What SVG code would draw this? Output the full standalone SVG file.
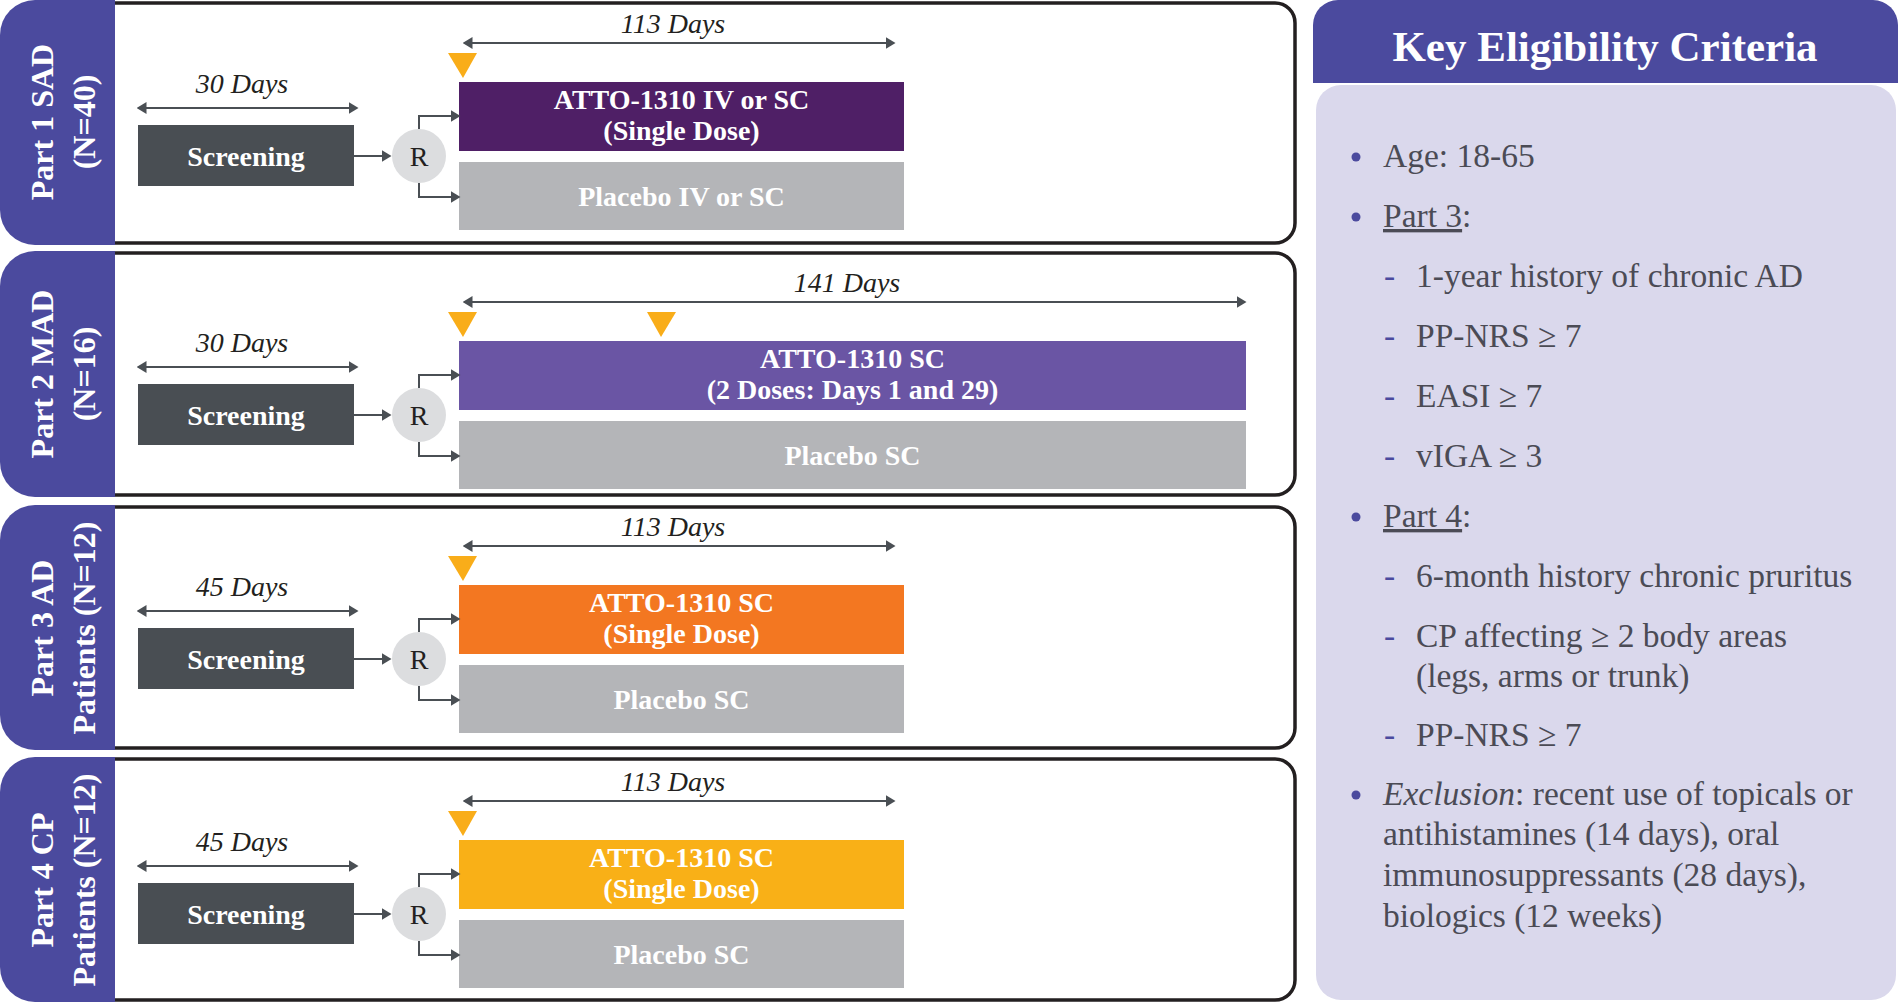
<svg xmlns="http://www.w3.org/2000/svg" width="1898" height="1004" viewBox="0 0 1898 1004">
<style>
  .frame { fill: #ffffff; stroke: #231f20; stroke-width: 3.5; }
  .tab { fill: #4b4a9e; }
  .tabtxt { font-family: "Liberation Serif", "Times New Roman", serif; font-weight: bold; font-size: 32px; fill: #ffffff; text-anchor: middle; }
  .dur { font-family: "Liberation Serif", "Times New Roman", serif; font-style: italic; font-size: 28px; fill: #231f20; text-anchor: middle; }
  .box { font-family: "Liberation Serif", "Times New Roman", serif; font-weight: bold; font-size: 28px; fill: #ffffff; text-anchor: middle; }
  .rtxt { font-family: "Liberation Serif", "Times New Roman", serif; font-size: 28px; fill: #231f20; text-anchor: middle; }
  .scr { fill: #494e53; }
  .plc { fill: #b4b5b8; }
  .rc { fill: #dcdddf; }
  .tri { fill: #f9ad19; }
  .conn { fill: none; stroke: #4a4f54; stroke-width: 2; }
  .arr { marker-end: url(#ah); }
  .darr { marker-start: url(#ah); marker-end: url(#ah); }
  .hdr { fill: #4b4a9e; }
  .body { fill: #dad8ec; }
  .hdrtxt { font-family: "Liberation Serif", "Times New Roman", serif; font-weight: bold; font-size: 43px; fill: #ffffff; text-anchor: middle; }
  .li { font-family: "Liberation Serif", "Times New Roman", serif; font-size: 33.5px; fill: #4b4b55; }
  .dash { font-family: "Liberation Serif", "Times New Roman", serif; font-size: 33.5px; fill: #4b4a9e; }
  .dot { fill: #4b4a9e; }
</style>
<defs>
  <marker id="ah" viewBox="0 0 10 12" refX="8.5" refY="6" markerWidth="10" markerHeight="12" markerUnits="userSpaceOnUse" orient="auto-start-reverse">
    <path d="M0,0 L10,6 L0,12 Z" fill="#4a4f54"/>
  </marker>
</defs>

<!-- Panel 1 -->
<g id="part1">
  <rect class="frame" x="60" y="3" width="1235" height="240" rx="20"/>
  <path class="tab" d="M115,0 V245 H35 A35,35 0 0 1 0,210 V35 A35,35 0 0 1 35,0 Z"/>
  <g transform="translate(0,122) rotate(-90)">
    <text class="tabtxt" x="0" y="53">Part 1 SAD</text>
    <text class="tabtxt" x="0" y="95">(N=40)</text>
  </g>
  <text class="dur" x="673" y="33">113 Days</text>
  <polygon class="tri" points="448,53 477,53 463,78"/>
  <text class="dur" x="242" y="93">30 Days</text>
  <g id="p1-screening"><rect class="scr" x="138" y="125" width="216" height="61"/><text class="box" x="246" y="165.5">Screening</text></g>
  <g id="p1-r"><circle class="rc" cx="419" cy="156" r="27"/><text class="rtxt" x="419" y="166">R</text></g>
  <g id="p1-drug"><rect x="459" y="82" width="445" height="69" fill="#4f1f66"/><text class="box" x="681.5" y="108.5">ATTO-1310 IV or SC</text><text class="box" x="681.5" y="140">(Single Dose)</text></g>
  <g id="p1-placebo"><rect class="plc" x="459" y="162" width="445" height="68"/><text class="box" x="681.5" y="206">Placebo IV or SC</text></g>
</g>

<!-- Panel 2 -->
<g id="part2">
  <rect class="frame" x="60" y="253" width="1235" height="242" rx="20"/>
  <path class="tab" d="M115,251 V497 H35 A35,35 0 0 1 0,462 V286 A35,35 0 0 1 35,251 Z"/>
  <g transform="translate(0,374) rotate(-90)">
    <text class="tabtxt" x="0" y="53">Part 2 MAD</text>
    <text class="tabtxt" x="0" y="95">(N=16)</text>
  </g>
  <text class="dur" x="847" y="292">141 Days</text>
  <polygon class="tri" points="448,312 477,312 463,337"/>
  <polygon class="tri" points="647,312 676,312 661,337"/>
  <text class="dur" x="242" y="352">30 Days</text>
  <g id="p2-screening"><rect class="scr" x="138" y="384" width="216" height="61"/><text class="box" x="246" y="424.5">Screening</text></g>
  <g id="p2-r"><circle class="rc" cx="419" cy="415" r="27"/><text class="rtxt" x="419" y="425">R</text></g>
  <g id="p2-drug"><rect x="459" y="341" width="787" height="69" fill="#6a55a4"/><text class="box" x="852.5" y="367.5">ATTO-1310 SC</text><text class="box" x="852.5" y="399">(2 Doses: Days 1 and 29)</text></g>
  <g id="p2-placebo"><rect class="plc" x="459" y="421" width="787" height="68"/><text class="box" x="852.5" y="465">Placebo SC</text></g>
</g>

<!-- Panel 3 -->
<g id="part3">
  <rect class="frame" x="60" y="507" width="1235" height="241" rx="20"/>
  <path class="tab" d="M115,505 V750 H35 A35,35 0 0 1 0,715 V540 A35,35 0 0 1 35,505 Z"/>
  <g transform="translate(0,628) rotate(-90)">
    <text class="tabtxt" x="0" y="53">Part 3 AD</text>
    <text class="tabtxt" x="0" y="95">Patients (N=12)</text>
  </g>
  <text class="dur" x="673" y="536">113 Days</text>
  <polygon class="tri" points="448,556 477,556 463,581"/>
  <text class="dur" x="242" y="596">45 Days</text>
  <g id="p3-screening"><rect class="scr" x="138" y="628" width="216" height="61"/><text class="box" x="246" y="668.5">Screening</text></g>
  <g id="p3-r"><circle class="rc" cx="419" cy="659" r="27"/><text class="rtxt" x="419" y="669">R</text></g>
  <g id="p3-drug"><rect x="459" y="585" width="445" height="69" fill="#f37721"/><text class="box" x="681.5" y="611.5">ATTO-1310 SC</text><text class="box" x="681.5" y="643">(Single Dose)</text></g>
  <g id="p3-placebo"><rect class="plc" x="459" y="665" width="445" height="68"/><text class="box" x="681.5" y="709">Placebo SC</text></g>
</g>

<!-- Panel 4 -->
<g id="part4">
  <rect class="frame" x="60" y="759" width="1235" height="241" rx="20"/>
  <path class="tab" d="M115,757 V1002 H35 A35,35 0 0 1 0,967 V792 A35,35 0 0 1 35,757 Z"/>
  <g transform="translate(0,880) rotate(-90)">
    <text class="tabtxt" x="0" y="53">Part 4 CP</text>
    <text class="tabtxt" x="0" y="95">Patients (N=12)</text>
  </g>
  <text class="dur" x="673" y="791">113 Days</text>
  <polygon class="tri" points="448,811 477,811 463,836"/>
  <text class="dur" x="242" y="851">45 Days</text>
  <g id="p4-screening"><rect class="scr" x="138" y="883" width="216" height="61"/><text class="box" x="246" y="923.5">Screening</text></g>
  <g id="p4-r"><circle class="rc" cx="419" cy="914" r="27"/><text class="rtxt" x="419" y="924">R</text></g>
  <g id="p4-drug"><rect x="459" y="840" width="445" height="69" fill="#f9b017"/><text class="box" x="681.5" y="866.5">ATTO-1310 SC</text><text class="box" x="681.5" y="898">(Single Dose)</text></g>
  <g id="p4-placebo"><rect class="plc" x="459" y="920" width="445" height="68"/><text class="box" x="681.5" y="964">Placebo SC</text></g>
</g>

<!-- Connectors -->
<g id="connectors">
  <!-- Panel 1 -->
  <line class="conn darr" x1="464" y1="43" x2="894" y2="43"/>
  <line class="conn darr" x1="138" y1="108" x2="357" y2="108"/>
  <line class="conn arr" x1="354" y1="156" x2="390" y2="156"/>
  <path class="conn arr" d="M419,129 V116 H459"/>
  <path class="conn arr" d="M419,183 V197 H459"/>
  <!-- Panel 2 -->
  <line class="conn darr" x1="464" y1="302" x2="1245" y2="302"/>
  <line class="conn darr" x1="138" y1="367" x2="357" y2="367"/>
  <line class="conn arr" x1="354" y1="415" x2="390" y2="415"/>
  <path class="conn arr" d="M419,388 V375 H459"/>
  <path class="conn arr" d="M419,442 V456 H459"/>
  <!-- Panel 3 -->
  <line class="conn darr" x1="464" y1="546" x2="894" y2="546"/>
  <line class="conn darr" x1="138" y1="611" x2="357" y2="611"/>
  <line class="conn arr" x1="354" y1="659" x2="390" y2="659"/>
  <path class="conn arr" d="M419,632 V619 H459"/>
  <path class="conn arr" d="M419,686 V700 H459"/>
  <!-- Panel 4 -->
  <line class="conn darr" x1="464" y1="801" x2="894" y2="801"/>
  <line class="conn darr" x1="138" y1="866" x2="357" y2="866"/>
  <line class="conn arr" x1="354" y1="914" x2="390" y2="914"/>
  <path class="conn arr" d="M419,887 V874 H459"/>
  <path class="conn arr" d="M419,941 V955 H459"/>
</g>

<!-- Key Eligibility Criteria -->
<g id="criteria">
  <rect class="body" x="1316" y="85" width="580" height="915" rx="25"/>
  <path class="hdr" d="M1313,83 V25 A25,25 0 0 1 1338,0 H1873 A25,25 0 0 1 1898,25 V83 Z"/>
  <text class="hdrtxt" x="1605" y="61">Key Eligibility Criteria</text>

  <circle class="dot" cx="1356" cy="157" r="4.5"/>
  <text class="li" x="1383" y="167">Age: 18-65</text>

  <circle class="dot" cx="1356" cy="217" r="4.5"/>
  <text class="li" x="1383" y="227"><tspan text-decoration="underline">Part 3</tspan>:</text>

  <text class="dash" x="1384" y="287">-</text>
  <text class="li" x="1416" y="287">1-year history of chronic AD</text>
  <text class="dash" x="1384" y="347">-</text>
  <text class="li" x="1416" y="347">PP-NRS ≥ 7</text>
  <text class="dash" x="1384" y="407">-</text>
  <text class="li" x="1416" y="407">EASI ≥ 7</text>
  <text class="dash" x="1384" y="467">-</text>
  <text class="li" x="1416" y="467">vIGA ≥ 3</text>

  <circle class="dot" cx="1356" cy="517" r="4.5"/>
  <text class="li" x="1383" y="527"><tspan text-decoration="underline">Part 4</tspan>:</text>

  <text class="dash" x="1384" y="587">-</text>
  <text class="li" x="1416" y="587">6-month history chronic pruritus</text>
  <text class="dash" x="1384" y="647">-</text>
  <text class="li" x="1416" y="647">CP affecting ≥ 2 body areas</text>
  <text class="li" x="1416" y="687">(legs, arms or trunk)</text>
  <text class="dash" x="1384" y="746">-</text>
  <text class="li" x="1416" y="746">PP-NRS ≥ 7</text>

  <circle class="dot" cx="1356" cy="795" r="4.5"/>
  <text class="li" x="1383" y="805"><tspan font-style="italic">Exclusion</tspan>: recent use of topicals or</text>
  <text class="li" x="1383" y="845">antihistamines (14 days), oral</text>
  <text class="li" x="1383" y="886">immunosuppressants (28 days),</text>
  <text class="li" x="1383" y="927">biologics (12 weeks)</text>
</g>
</svg>
